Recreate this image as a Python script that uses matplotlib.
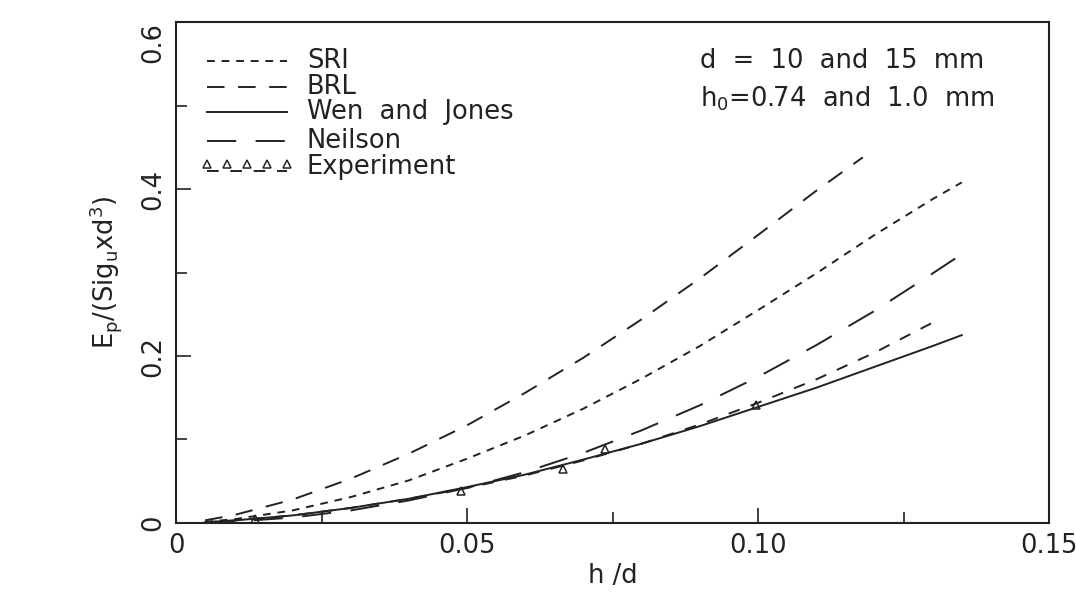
import numpy as np
import matplotlib
matplotlib.use("Agg")
import matplotlib.pyplot as plt

# h/d values and curves
x_wj = [0.005, 0.01, 0.02, 0.03, 0.04, 0.05, 0.06, 0.07, 0.08, 0.09, 0.10, 0.11, 0.12, 0.13, 0.135]
wen_jones = [0.0009, 0.003, 0.009, 0.018, 0.029, 0.043, 0.058, 0.076, 0.095, 0.116, 0.139, 0.162, 0.187, 0.212, 0.225]

x_sri = [0.005, 0.01, 0.02, 0.03, 0.04, 0.05, 0.06, 0.07, 0.08, 0.09, 0.10, 0.11, 0.12, 0.13, 0.135]
sri = [0.0014, 0.0045, 0.015, 0.031, 0.051, 0.077, 0.105, 0.137, 0.173, 0.212, 0.255, 0.299, 0.345, 0.388, 0.408]

x_brl = [0.005, 0.01, 0.02, 0.03, 0.04, 0.05, 0.06, 0.07, 0.08, 0.09, 0.10, 0.11, 0.118]
brl = [0.0032, 0.0095, 0.028, 0.053, 0.083, 0.117, 0.156, 0.198, 0.244, 0.293, 0.345, 0.398, 0.438]

x_neil = [0.005, 0.01, 0.02, 0.03, 0.04, 0.05, 0.06, 0.07, 0.08, 0.09, 0.10, 0.11, 0.12, 0.13, 0.135]
neilson = [0.0004, 0.0016, 0.0065, 0.015, 0.027, 0.042, 0.061, 0.084, 0.111, 0.141, 0.175, 0.213, 0.254, 0.299, 0.322]

x_expfit = [0.005, 0.01, 0.02, 0.03, 0.04, 0.05, 0.06, 0.07, 0.08, 0.09, 0.10, 0.11, 0.12, 0.13]
exp_fit = [0.0008, 0.003, 0.009, 0.018, 0.029, 0.042, 0.057, 0.075, 0.095, 0.118, 0.144, 0.172, 0.204, 0.240]

x_exp = [0.0136, 0.049, 0.0665, 0.0737, 0.0997]
y_exp = [0.005, 0.038, 0.065, 0.089, 0.141]

INK = "#222222"
FS = 18.5
TFS = 18.5

plt.rcParams["font.family"] = "DejaVu Sans"
fig = plt.figure(figsize=(10.76, 5.97), dpi=100)
ax = fig.add_axes([0.1636, 0.124, 0.8114, 0.839])

lw = 1.4
styles = {
    "sri": (0, (4, 3.5)),
    "brl": (0, (9, 7)),
    "neil": (0, (15, 10)),
    "exp": (0, (6, 6)),
}

ax.plot(x_sri, sri, color=INK, lw=lw, linestyle=styles["sri"])
ax.plot(x_brl, brl, color=INK, lw=lw, linestyle=styles["brl"])
ax.plot(x_wj, wen_jones, color=INK, lw=lw, linestyle="-")
ax.plot(x_neil, neilson, color=INK, lw=lw, linestyle=styles["neil"])
ax.plot(x_expfit, exp_fit, color=INK, lw=lw, linestyle=styles["exp"])
ax.plot(x_exp, y_exp, linestyle="none", marker="^", markersize=6,
        markerfacecolor="none", markeredgecolor=INK, markeredgewidth=1.1)

ax.set_xlim(0, 0.15)
ax.set_ylim(0, 0.6)
ax.set_xticks([0, 0.05, 0.10, 0.15])
ax.set_xticklabels(["0", "0.05", "0.10", "0.15"])
ax.set_xticks([0.025, 0.075, 0.125], minor=True)
ax.set_yticks([0, 0.2, 0.4, 0.6])
ax.set_yticklabels(["0", "0.2", "0.4", "0.6"], rotation=90, va="center")
ax.set_yticks([0.1, 0.3, 0.5], minor=True)
ax.tick_params(which="both", direction="in", color=INK, width=1.2,
               labelsize=TFS, labelcolor=INK, top=False, right=False)
ax.tick_params(which="major", length=11, pad=7)
ax.tick_params(which="minor", length=8)
for s in ax.spines.values():
    s.set_linewidth(1.5)
    s.set_color(INK)
# keep the top y label inside the canvas, like the scanned original
ax.get_yticklabels()[-1].set_va("top")

ax.set_xlabel("h /d", fontsize=FS, color=INK, labelpad=3)
ax.set_ylabel(r"E$_\mathregular{p}$/(Sig$_\mathregular{u}$xd$^\mathregular{3}$)",
              fontsize=FS, color=INK, labelpad=12)

# hand-made legend, as in the original figure
leg_rows = [
    ("SRI", styles["sri"]),
    ("BRL", styles["brl"]),
    ("Wen  and  Jones", "-"),
    ("Neilson", styles["neil"]),
]
row_y = [0.922, 0.870, 0.820, 0.762, 0.711]
x0, x1, xt = 0.036, 0.127, 0.150
for (label, ls), yy in zip(leg_rows, row_y):
    ax.plot([x0, x1], [yy, yy], transform=ax.transAxes, color=INK, lw=lw, linestyle=ls)
    ax.text(xt, yy, label, transform=ax.transAxes, fontsize=FS, color=INK, va="center")
yy = row_y[-1]
ax.plot(np.linspace(x0, x1, 5), [yy + 0.006] * 5, transform=ax.transAxes, linestyle="none",
        marker="^", markersize=5.5, markerfacecolor="none", markeredgecolor=INK, markeredgewidth=1.1)
ax.plot([x0, x1], [yy - 0.008, yy - 0.008], transform=ax.transAxes, color=INK, lw=lw,
        linestyle=styles["exp"])
ax.text(xt, yy, "Experiment", transform=ax.transAxes, fontsize=FS, color=INK, va="center")

ax.text(0.600, 0.922, "d  =  10  and  15  mm", transform=ax.transAxes, fontsize=FS,
        color=INK, va="center")
ax.text(0.600, 0.847, r"h$_\mathregular{0}$=0.74  and  1.0  mm", transform=ax.transAxes,
        fontsize=FS, color=INK, va="center")

fig.savefig("out.png", dpi=100)
